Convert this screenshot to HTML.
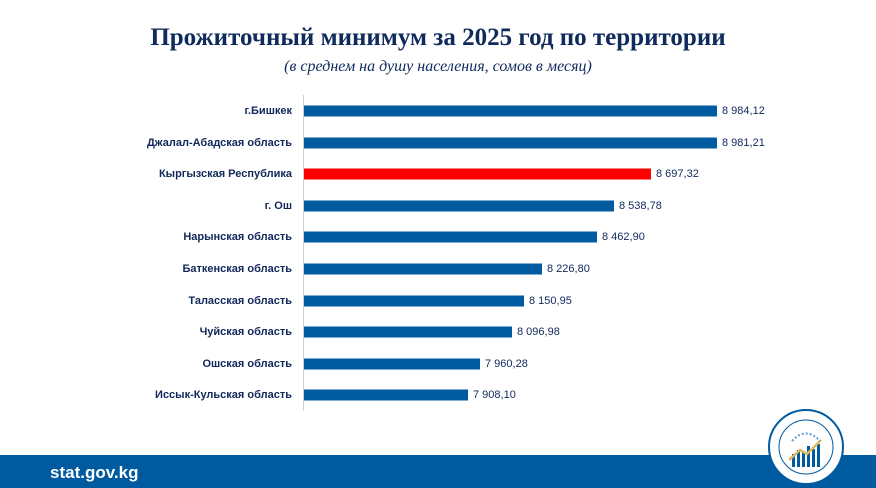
<!DOCTYPE html>
<html><head><meta charset="utf-8"><style>
body{margin:0;width:876px;height:488px;background:#fff;position:relative;overflow:hidden;font-family:"Liberation Sans",sans-serif}
.t{position:absolute;left:0;width:876px;text-align:center;font-family:"Liberation Serif",serif;color:#0f2a5c}
.lab{position:absolute;right:584px;font-size:11px;font-weight:bold;color:#10285a;white-space:nowrap;transform:translateY(-50%)}
.bar{position:absolute;left:304px;height:11px;background:#005ba1;transform:translateY(-50%)}
.val{position:absolute;font-size:11px;color:#10285a;transform:translateY(-50%)}
</style></head><body>
<div class="t" style="top:24px;font-size:25px;font-weight:bold">Прожиточный минимум за 2025 год по территории</div>
<div class="t" style="top:58px;font-size:16px;font-style:italic">(в среднем на душу населения, сомов в месяц)</div>
<div style="position:absolute;left:303px;top:95px;width:1px;height:316px;background:#d0d0d0"></div>
<div id="c"></div>
<div style="position:absolute;left:0;top:455px;width:876px;height:33px;background:#005aa0"></div>
<div style="position:absolute;left:50px;top:463px;font-size:17px;font-weight:bold;color:#fff">stat.gov.kg</div>
<svg style="position:absolute;left:767px;top:408px" width="78" height="78" viewBox="0 0 78 78">
<circle cx="39" cy="39" r="37" fill="#fff" stroke="#005aa0" stroke-width="2"/>
<circle cx="39" cy="39" r="27" fill="none" stroke="#005aa0" stroke-width="1"/>
<g fill="#005aa0"><rect x="25" y="46" width="3" height="13"/><rect x="30" y="42" width="3" height="17"/><rect x="35" y="44" width="3" height="15"/><rect x="40" y="38" width="3" height="21"/><rect x="45" y="41" width="3" height="18"/><rect x="50" y="36" width="3" height="23"/></g>
<polyline points="22,52 33,42 40,46 54,32" fill="none" stroke="#e0b860" stroke-width="2.5"/>
<path d="M25 33 Q39 18 53 33" fill="none" stroke="#5aa0d8" stroke-width="2" stroke-dasharray="2 2"/>
</svg>
<script>
var d=[["г.Бишкек",717,"8 984,12"],["Джалал-Абадская область",717,"8 981,21"],["Кыргызская Республика",651,"8 697,32"],["г. Ош",614,"8 538,78"],["Нарынская область",597,"8 462,90"],["Баткенская область",542,"8 226,80"],["Таласская область",524,"8 150,95"],["Чуйская область",512,"8 096,98"],["Ошская область",480,"7 960,28"],["Иссык-Кульская область",468,"7 908,10"]];
var h="";d.forEach(function(r,i){var y=111+i*31.6;
h+='<div class="lab" style="top:'+y+'px">'+r[0]+'</div><div class="bar" style="top:'+y+'px;width:'+(r[1]-304)+'px;'+(i==2?'background:#ff0000':'')+'"></div><div class="val" style="top:'+y+'px;left:'+(r[1]+5)+'px">'+r[2]+'</div>';});
document.getElementById("c").innerHTML=h;
</script>
</body></html>
